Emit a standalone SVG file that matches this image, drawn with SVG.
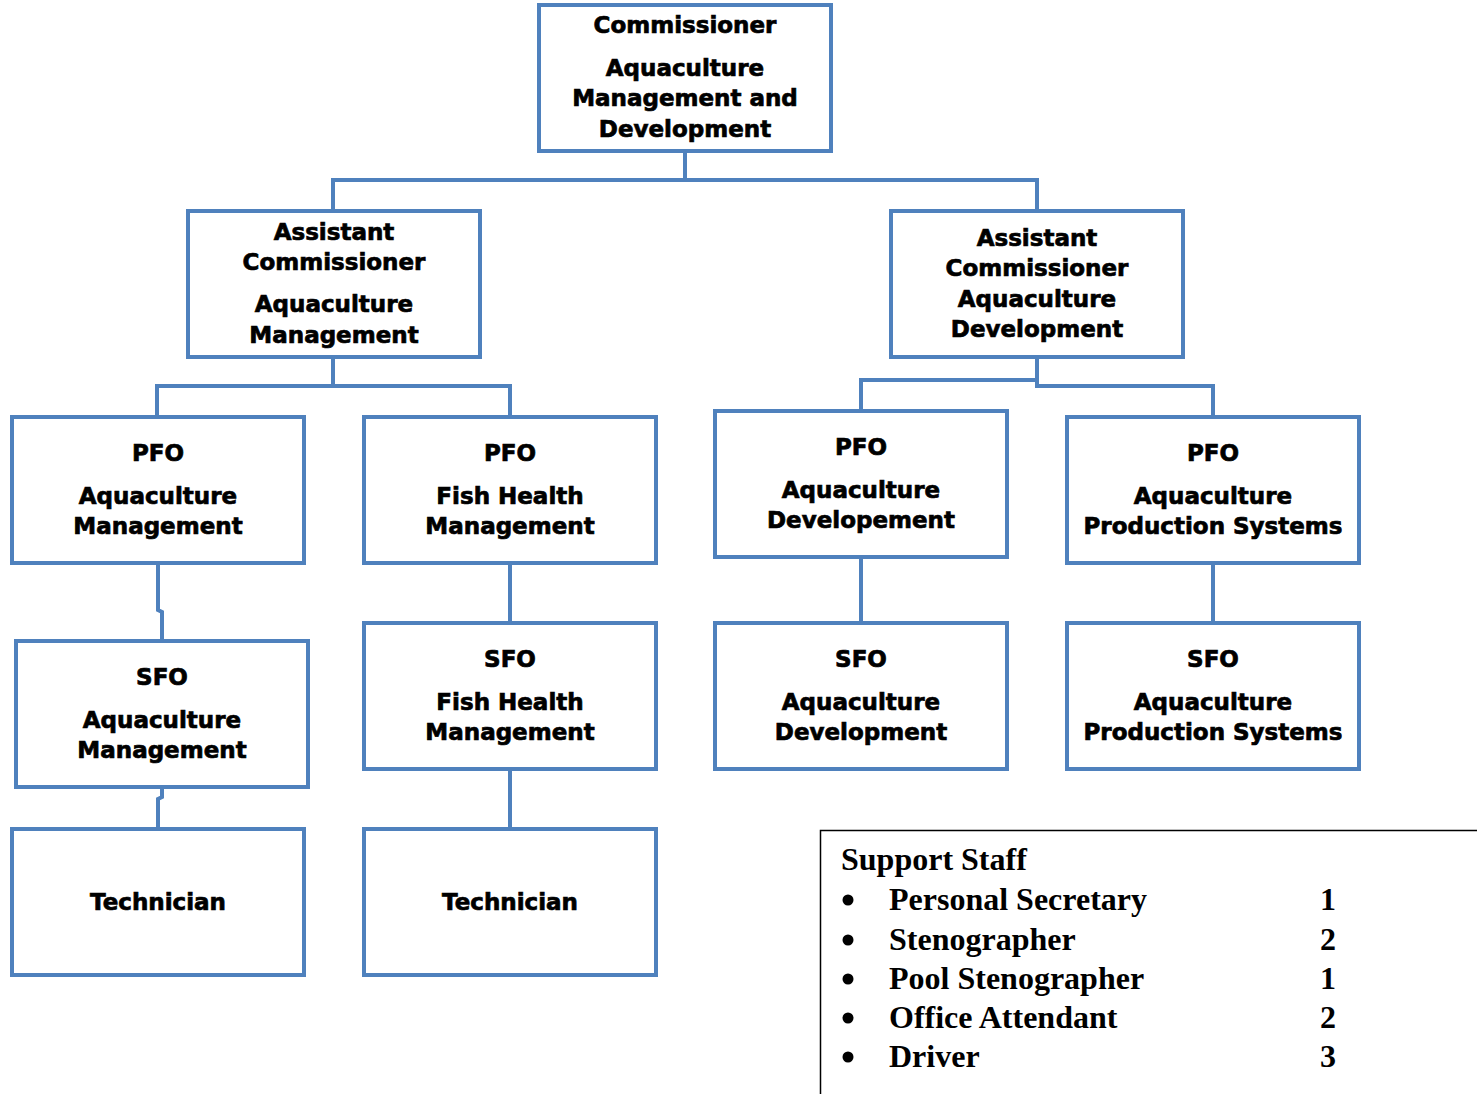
<svg xmlns="http://www.w3.org/2000/svg" width="1477" height="1094" viewBox="0 0 1477 1094">
<style>
.box{fill:#fff;stroke:#4F81BD;stroke-width:4}
.t{font-family:"DejaVu Sans","Liberation Sans",sans-serif;font-weight:bold;font-size:23px;fill:#000;stroke:#000;stroke-width:0.7;text-anchor:middle}
.c{fill:none;stroke:#4F81BD;stroke-width:4}
.s{font-family:"Liberation Serif","Times New Roman",serif;font-weight:bold;font-size:32px;fill:#000}
</style>
<rect width="1477" height="1094" fill="#fff"/>
<g id="connectors">
<path class="c" d="M685 151V180M333 211V180H1037V211"/>
<path class="c" d="M333 357V386M157 417V386H510V417"/>
<path class="c" d="M1037 357V386H1213V417M861 411V380H1037"/>
<path class="c" d="M158 563V610L162 612V641"/>
<path class="c" d="M162 787V797L158 799V829"/>
<path class="c" d="M510 563V623M510 769V829M861 557V623M1213 563V623"/>
</g>
<g id="commissioner"><rect class="box" x="539" y="5" width="292" height="146"/>
<text class="t" x="685"><tspan x="685" y="33">Commissioner</tspan><tspan x="685" y="76">Aquaculture</tspan><tspan x="685" y="106">Management and</tspan><tspan x="685" y="137">Development</tspan></text></g>
<g id="ac-management"><rect class="box" x="188" y="211" width="292" height="146"/>
<text class="t"><tspan x="334" y="240">Assistant</tspan><tspan x="334" y="270">Commissioner</tspan><tspan x="334" y="312">Aquaculture</tspan><tspan x="334" y="343">Management</tspan></text></g>
<g id="ac-development"><rect class="box" x="891" y="211" width="292" height="146"/>
<text class="t"><tspan x="1037" y="246">Assistant</tspan><tspan x="1037" y="276">Commissioner</tspan><tspan x="1037" y="307">Aquaculture</tspan><tspan x="1037" y="337">Development</tspan></text></g>
<g id="pfo-am"><rect class="box" x="12" y="417" width="292" height="146"/>
<text class="t"><tspan x="158" y="461">PFO</tspan><tspan x="158" y="504">Aquaculture</tspan><tspan x="158" y="534">Management</tspan></text></g>
<g id="pfo-fhm"><rect class="box" x="364" y="417" width="292" height="146"/>
<text class="t"><tspan x="510" y="461">PFO</tspan><tspan x="510" y="504">Fish Health</tspan><tspan x="510" y="534">Management</tspan></text></g>
<g id="pfo-ad"><rect class="box" x="715" y="411" width="292" height="146"/>
<text class="t"><tspan x="861" y="455">PFO</tspan><tspan x="861" y="498">Aquaculture</tspan><tspan x="861" y="528">Developement</tspan></text></g>
<g id="pfo-aps"><rect class="box" x="1067" y="417" width="292" height="146"/>
<text class="t"><tspan x="1213" y="461">PFO</tspan><tspan x="1213" y="504">Aquaculture</tspan><tspan x="1213" y="534">Production Systems</tspan></text></g>
<g id="sfo-am"><rect class="box" x="16" y="641" width="292" height="146"/>
<text class="t"><tspan x="162" y="685">SFO</tspan><tspan x="162" y="728">Aquaculture</tspan><tspan x="162" y="758">Management</tspan></text></g>
<g id="sfo-fhm"><rect class="box" x="364" y="623" width="292" height="146"/>
<text class="t"><tspan x="510" y="667">SFO</tspan><tspan x="510" y="710">Fish Health</tspan><tspan x="510" y="740">Management</tspan></text></g>
<g id="sfo-ad"><rect class="box" x="715" y="623" width="292" height="146"/>
<text class="t"><tspan x="861" y="667">SFO</tspan><tspan x="861" y="710">Aquaculture</tspan><tspan x="861" y="740">Development</tspan></text></g>
<g id="sfo-aps"><rect class="box" x="1067" y="623" width="292" height="146"/>
<text class="t"><tspan x="1213" y="667">SFO</tspan><tspan x="1213" y="710">Aquaculture</tspan><tspan x="1213" y="740">Production Systems</tspan></text></g>
<g id="tech-1"><rect class="box" x="12" y="829" width="292" height="146"/>
<text class="t" x="158" y="910">Technician</text></g>
<g id="tech-2"><rect class="box" x="364" y="829" width="292" height="146"/>
<text class="t" x="510" y="910">Technician</text></g>
<g id="support-staff">
<path d="M820.5 1094V830.5H1477" fill="none" stroke="#000" stroke-width="1.5"/>
<text class="s" x="841" y="870">Support Staff</text>
<g fill="#000"><circle cx="848" cy="900" r="5.5"/><circle cx="848" cy="940" r="5.5"/><circle cx="848" cy="979" r="5.5"/><circle cx="848" cy="1018" r="5.5"/><circle cx="848" cy="1057" r="5.5"/></g>
<text class="s" x="889" y="910">Personal Secretary</text>
<text class="s" x="889" y="950">Stenographer</text>
<text class="s" x="889" y="989">Pool Stenographer</text>
<text class="s" x="889" y="1028">Office Attendant</text>
<text class="s" x="889" y="1067">Driver</text>
<g class="s" text-anchor="middle"><text x="1328" y="910">1</text><text x="1328" y="950">2</text><text x="1328" y="989">1</text><text x="1328" y="1028">2</text><text x="1328" y="1067">3</text></g>
</g>
</svg>
